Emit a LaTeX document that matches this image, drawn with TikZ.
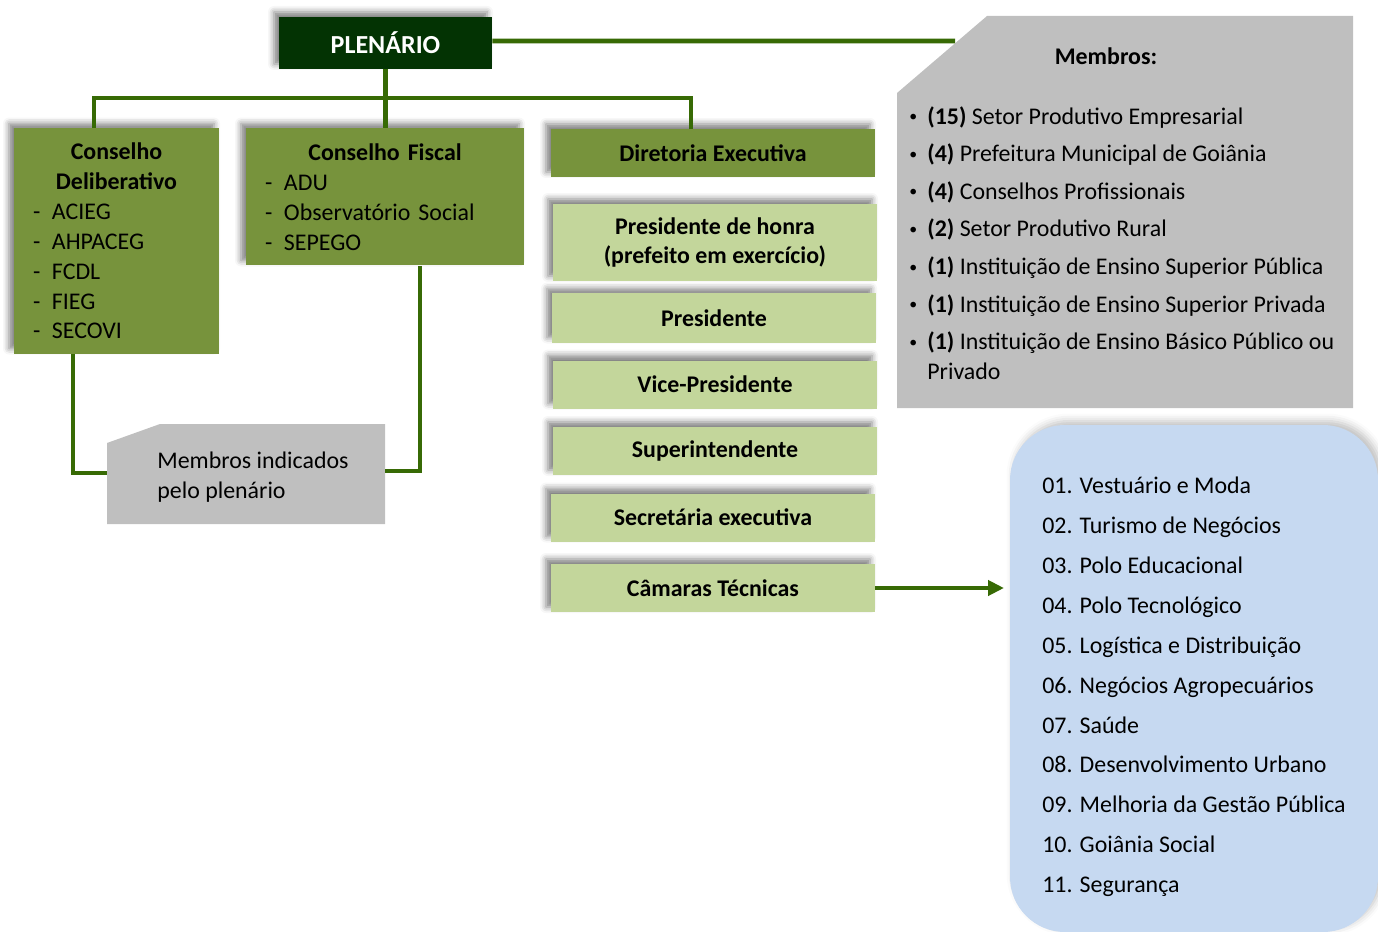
\documentclass[tikz,border=0pt]{standalone}
\usepackage{fontspec}
\setmainfont{Carlito}
\usepackage{xcolor}
\usetikzlibrary{arrows.meta,shadows.blur}

\definecolor{verdeescuro}{HTML}{033303}
\definecolor{verdelinha}{HTML}{376A05}
\definecolor{oliva}{HTML}{77933C}
\definecolor{verdeclaro}{HTML}{C3D69B}
\definecolor{cinza}{HTML}{BFBFBF}
\definecolor{azulclaro}{HTML}{C6D9F1}

\newcommand\traco[1]{\makebox[0.38cm][l]{-}#1}
\newcommand\titulo[1]{\makebox[\hsize]{\bfseries #1}}
\newcommand\membro[2]{\makebox[0.36cm][l]{\raisebox{0.1em}{\fontsize{9}{9}\selectfont•}}\textbf{(#1)} #2}

\begin{document}
\begin{tikzpicture}[x=0.02cm,y=-0.02cm,font=\fontsize{13.6}{17}\selectfont,
  tam/.style 2 args={minimum width=#1*0.02cm,minimum height=#2*0.02cm},
  negrito/.style={font=\fontsize{13.6}{17}\selectfont\bfseries},
  caixa/.style={inner sep=0pt,blur shadow={shadow xshift=-0.1cm,shadow yshift=0.1cm,shadow blur radius=0.12cm,shadow opacity=50}},
  cargo/.style={caixa,fill=verdeclaro,negrito,align=center,tam={324}{48}},
  conector/.style={verdelinha,line width=2.6pt}]
\useasboundingbox (0,0) rectangle (1378,932);
% caixas cinzentas com canto cortado
\fill[cinza] (897,93) -- (987,16) -- (1353,16) -- (1353,408) -- (897,408) -- cycle;
\fill[cinza] (107,443) -- (160,424) -- (385,424) -- (385,524) -- (107,524) -- cycle;
\coordinate (membros-corte) at (955,41);
\coordinate (ind-w) at (107,473);
\coordinate (ind-e) at (385,471);
\coordinate (ramo) at (385,98);
\coordinate (camaras-alvo) at (1004,588);

\node[caixa,fill=verdeescuro,text=white,font=\fontsize{14.8}{17}\selectfont\bfseries,tam={213}{52}] (plenario) at (385.5,43) {PLENÁRIO};
\node[caixa,fill=oliva,tam={205}{225},text width=3.34cm,align=left] (delib) at (116.5,241)
  {\titulo{Conselho}\\\titulo{Deliberativo}\\
   \traco{ACIEG}\\\traco{AHPACEG}\\\traco{FCDL}\\\traco{FIEG}\\\traco{SECOVI}};
\node[caixa,fill=oliva,tam={278}{137},text width=4.8cm,align=left] (fiscal) at (385,197)
  {\titulo{Conselho Fiscal}\\
   \traco{ADU}\\\traco{Observatório Social}\\\traco{SEPEGO}};
\node[cargo,fill=oliva] (diretoria) at (713,153) {Diretoria Executiva};
\node[cargo,tam={324}{77}] (honra) at (715,242.5) {Presidente de honra\\(prefeito em exercício)};
\node[cargo,tam={324}{49}] (presidente) at (714,318) {Presidente};
\node[cargo] (vice) at (715,384.5) {Vice-Presidente};
\node[cargo] (superint) at (715,451) {Superintendente};
\node[cargo] (secretaria) at (713,517.5) {Secretária executiva};
\node[cargo] (camaras) at (713,588) {Câmaras Técnicas};

\node[negrito] (membros-tit) at (1106,56) {Membros:};
\node[align=left,anchor=north west,inner sep=0pt] (membros) at (909,106)
  {\membro{15}{Setor Produtivo Empresarial}\\[0.155cm]
   \membro{4}{Prefeitura Municipal de Goiânia}\\[0.155cm]
   \membro{4}{Conselhos Profissionais}\\[0.155cm]
   \membro{2}{Setor Produtivo Rural}\\[0.155cm]
   \membro{1}{Instituição de Ensino Superior Pública}\\[0.155cm]
   \membro{1}{Instituição de Ensino Superior Privada}\\[0.155cm]
   \membro{1}{Instituição de Ensino Básico Público ou}\\\hspace*{0.36cm}Privado};
\node[align=left,anchor=west,inner sep=0pt] (indicados) at (157,477) {Membros indicados\\pelo plenário};

\node[fill=azulclaro,rounded corners=1.1cm,tam={368}{507},align=left,
  blur shadow={shadow xshift=0.08cm,shadow yshift=0.08cm,shadow blur radius=0.15cm,shadow opacity=25}] (lista) at (1194,678.5)
  {\rule{0pt}{0.67cm}01. Vestuário e Moda\\[0.2cm]02. Turismo de Negócios\\[0.2cm]03. Polo Educacional\\[0.2cm]
   04. Polo Tecnológico\\[0.2cm]05. Logística e Distribuição\\[0.2cm]06. Negócios Agropecuários\\[0.2cm]
   07. Saúde\\[0.2cm]08. Desenvolvimento Urbano\\[0.2cm]09. Melhoria da Gestão Pública\\[0.2cm]
   10. Goiânia Social\\[0.2cm]11. Segurança};

% ligacoes
\draw[conector] (plenario.east) ++(0,0.04cm) -- (membros-corte);
\draw[conector] (plenario.south) -- (plenario.south |- fiscal.north);
\draw[conector] ([xshift=-0.45cm]delib.north) |- (ramo) -| ([xshift=-0.44cm]diretoria.north);
\draw[conector] ([xshift=-0.87cm]delib.south) |- (ind-w);
\draw[conector] ([xshift=0.7cm]fiscal.south) |- (ind-e);
\draw[conector,-{Triangle[length=0.32cm,width=0.3cm]}] (camaras.east) -- (camaras-alvo);
\end{tikzpicture}
\end{document}
